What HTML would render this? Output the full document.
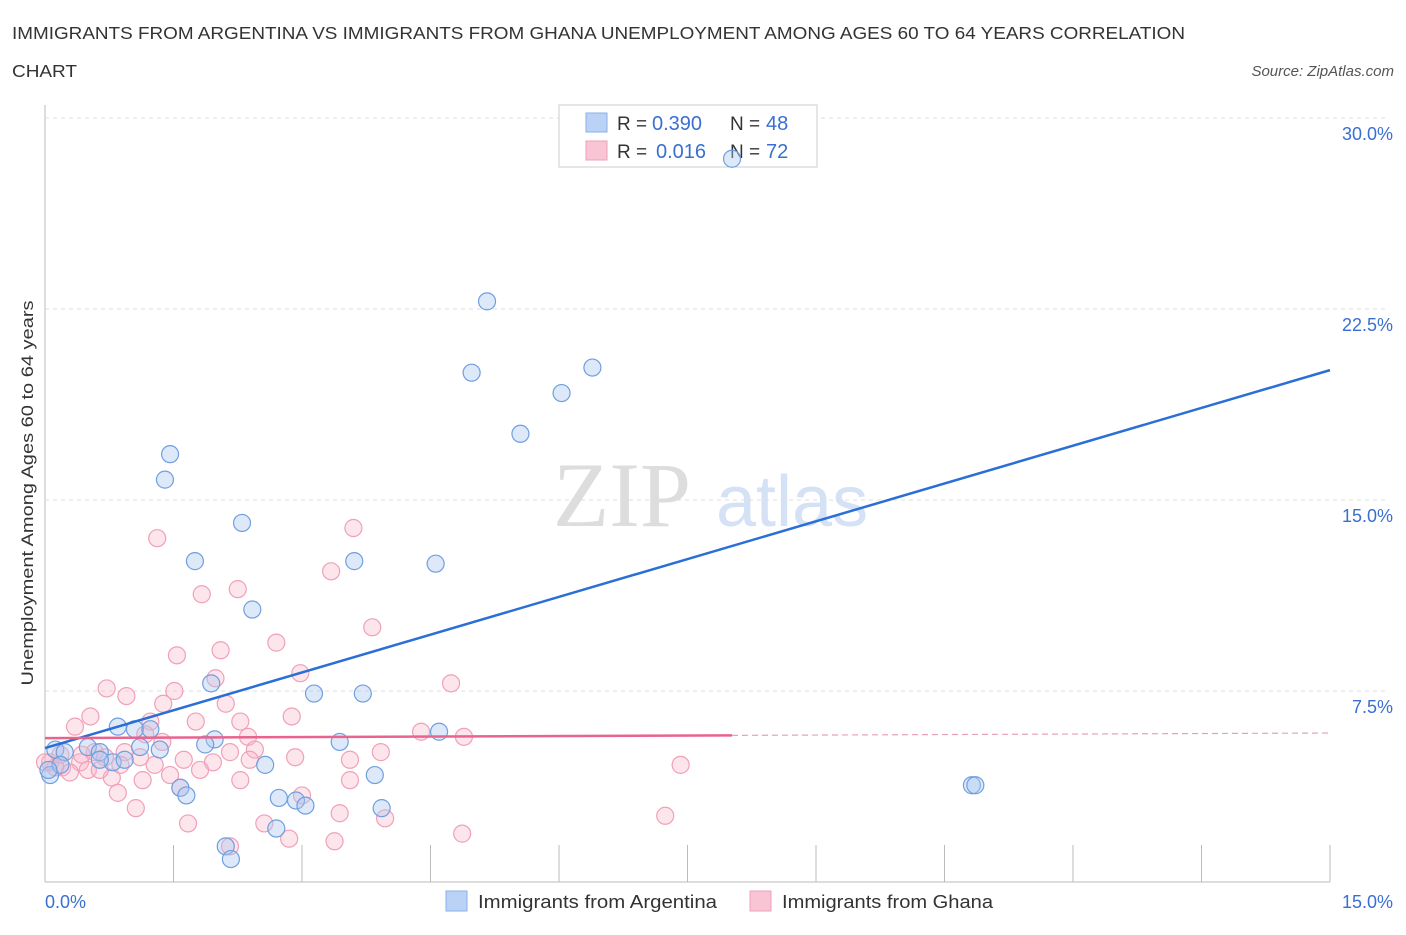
<!DOCTYPE html>
<html><head><meta charset="utf-8"><style>
body{margin:0;background:#fff;font-family:"Liberation Sans",sans-serif}
</style></head><body>
<svg id="c" width="1406" height="930" xmlns="http://www.w3.org/2000/svg" font-family="Liberation Sans, sans-serif">
<text x="12" y="39" font-size="17.5" fill="#333" textLength="1173" lengthAdjust="spacingAndGlyphs">IMMIGRANTS FROM ARGENTINA VS IMMIGRANTS FROM GHANA UNEMPLOYMENT AMONG AGES 60 TO 64 YEARS CORRELATION</text>
<text x="12" y="77" font-size="17.5" fill="#333" textLength="65" lengthAdjust="spacingAndGlyphs">CHART</text>
<text x="1394" y="76" font-size="15" fill="#555" font-style="italic" text-anchor="end">Source: ZipAtlas.com</text>
<text transform="translate(33,493) rotate(-90)" font-size="17" fill="#333" text-anchor="middle" textLength="385" lengthAdjust="spacingAndGlyphs">Unemployment Among Ages 60 to 64 years</text>
<text x="553" y="526" font-size="92" fill="#ddd" font-family="Liberation Serif, serif">ZIP</text>
<text x="716" y="526" font-size="72" fill="#d5e2f5">atlas</text>
<g id="grid"></g>
<g>
<rect x="559" y="105" width="258" height="62" fill="#fff" stroke="#ccc"/>
<rect x="586" y="113" width="21" height="19" fill="#b9d2f5" stroke="#8ab0e8"/>
<rect x="586" y="141" width="21" height="19" fill="#f9c5d4" stroke="#f0a0b8"/>
<text x="617" y="130" font-size="19" fill="#333">R =</text>
<text x="652" y="130" font-size="20" fill="#3a6fd0">0.390</text>
<text x="730" y="130" font-size="19" fill="#333">N =</text>
<text x="766" y="130" font-size="20" fill="#3a6fd0">48</text>
<text x="617" y="158" font-size="19" fill="#333">R =</text>
<text x="656" y="158" font-size="20" fill="#3a6fd0">0.016</text>
<text x="730" y="158" font-size="19" fill="#333">N =</text>
<text x="766" y="158" font-size="20" fill="#3a6fd0">72</text>
</g>
<g id="pts"></g><g id="lines"></g>
<g>
<rect x="446" y="891" width="21" height="20" fill="#b9d2f5" stroke="#8ab0e8"/>
<text x="478" y="908" font-size="18" fill="#333" textLength="239" lengthAdjust="spacingAndGlyphs">Immigrants from Argentina</text>
<rect x="750" y="891" width="21" height="20" fill="#f9c5d4" stroke="#f0a0b8"/>
<text x="782" y="908" font-size="18" fill="#333" textLength="211" lengthAdjust="spacingAndGlyphs">Immigrants from Ghana</text>
</g>
</svg>
<script>
const yTicks=[7.5,15,22.5,30];
const yTickLabels=["7.5%","15.0%","22.5%","30.0%"];
const xTicks=[0,1.5,3,4.5,6,7.5,9,10.5,12,13.5,15];
const argX=[8.02,5.16,4.98,6.39,6.03,5.55,1.46,1.40,2.30,1.75,3.61,4.56,2.42,1.94,3.14,3.71,0.85,1.05,1.23,1.98,1.87,3.44,4.60,0.12,0.23,0.50,0.64,0.79,0.93,1.11,2.57,3.85,1.58,1.65,2.73,2.93,3.04,3.93,2.70,2.11,2.17,10.82,10.86,0.06,0.18,0.64,1.34,0.04];
const argY=[28.4,22.8,20.0,20.2,19.2,17.6,16.8,15.8,14.1,12.6,12.6,12.5,10.7,7.8,7.4,7.4,6.1,6.0,6.0,5.6,5.4,5.5,5.9,5.2,5.1,5.3,5.1,4.7,4.8,5.3,4.6,4.2,3.7,3.4,3.3,3.2,3.0,2.9,2.1,1.4,0.9,3.8,3.8,4.2,4.6,4.8,5.2,4.4];
const ghaX=[1.31,3.60,3.34,2.25,1.83,3.82,2.70,2.05,1.54,2.98,4.74,1.99,0.72,0.95,1.51,1.38,2.11,0.53,0.35,1.23,1.76,2.28,2.88,4.39,4.89,2.37,1.17,1.37,2.16,2.45,3.92,0.58,0.93,0.70,1.11,1.62,1.96,2.92,7.42,0.06,0.20,0.41,0.50,0.78,1.14,0.85,1.58,3.00,3.56,1.06,1.67,2.56,3.44,3.97,4.87,2.85,3.38,2.16,7.24,0.12,0.29,0,0.43,1.28,1.81,2.39,0.88,0.18,1.46,2.28,0.64,3.56];
const ghaY=[13.5,13.9,12.2,11.5,11.3,10.0,9.4,9.1,8.9,8.2,7.8,8.0,7.6,7.3,7.5,7.0,7.0,6.5,6.1,6.3,6.3,6.3,6.5,5.9,5.7,5.7,5.8,5.5,5.1,5.2,5.1,5.1,5.1,4.9,4.9,4.8,4.7,4.9,4.6,4.7,4.5,4.7,4.4,4.1,4.0,3.5,3.7,3.4,4.0,2.9,2.3,2.3,2.7,2.5,1.9,1.7,1.6,1.4,2.6,4.5,4.3,4.7,5.0,4.6,4.4,4.8,4.6,5.0,4.2,4.0,4.4,4.8];
const trendArg=[5.26,20.1];
const trendGha=[5.65,5.85];
const X0=45,X1=1330,Y0=882,YT=118;
const xs=v=>X0+v/15*(X1-X0), ys=v=>Y0-v/30*(Y0-YT);
const NS="http://www.w3.org/2000/svg";
function mk(p,t,a){const e=document.createElementNS(NS,t);for(const k in a)e.setAttribute(k,a[k]);document.getElementById(p).appendChild(e);return e;}
let e=mk('grid','line',{x1:X0,x2:X0,y1:105,y2:Y0,stroke:'#bbb'});

e=mk('grid','line',{x1:X0,x2:X1,y1:Y0,y2:Y0,stroke:'#bbb'});

yTicks.forEach((v,i)=>{
 e=mk('grid','line',{x1:X0,x2:X1+55,y1:ys(v),y2:ys(v),stroke:'#ddd','stroke-dasharray':'4,4'});
 
 e=mk('grid','text',{x:1393,y:ys(v)+22,'font-size':18,fill:'#3a6fd0','text-anchor':'end'});e.textContent=yTickLabels[i];
 
});
xTicks.forEach(v=>{
 e=mk('grid','line',{x1:xs(v),x2:xs(v),y1:Y0-37,y2:Y0,stroke:'#bbb'});
 
});
e=mk('grid','text',{x:45,y:908,'font-size':18,fill:'#3a6fd0'});e.textContent='0.0%';

e=mk('grid','text',{x:1393,y:908,'font-size':18,fill:'#3a6fd0','text-anchor':'end'});e.textContent='15.0%';

ghaX.forEach((v,i)=>{e=mk('pts','circle',{cx:xs(v),cy:ys(ghaY[i]),r:8.5,fill:'rgba(248,180,200,0.35)',stroke:'#f0a0b8','stroke-width':1.2});
 });
argX.forEach((v,i)=>{e=mk('pts','circle',{cx:xs(v),cy:ys(argY[i]),r:8.5,fill:'rgba(170,200,240,0.4)',stroke:'#6f9fe0','stroke-width':1.2});
 });
e=mk('lines','line',{x1:xs(0),y1:ys(trendArg[0]),x2:xs(15),y2:ys(trendArg[1]),stroke:'#2a6fd6','stroke-width':2.5});

const gm=trendGha[0]+(trendGha[1]-trendGha[0])*8.02/15;
e=mk('lines','line',{x1:xs(0),y1:ys(trendGha[0]),x2:xs(8.02),y2:ys(gm),stroke:'#e8648e','stroke-width':2.5});

e=mk('lines','line',{x1:xs(8.02),y1:ys(gm),x2:xs(15),y2:ys(trendGha[1]),stroke:'#e8a0b8','stroke-width':1.2,'stroke-dasharray':'6,4'});

</script>
</body></html>
